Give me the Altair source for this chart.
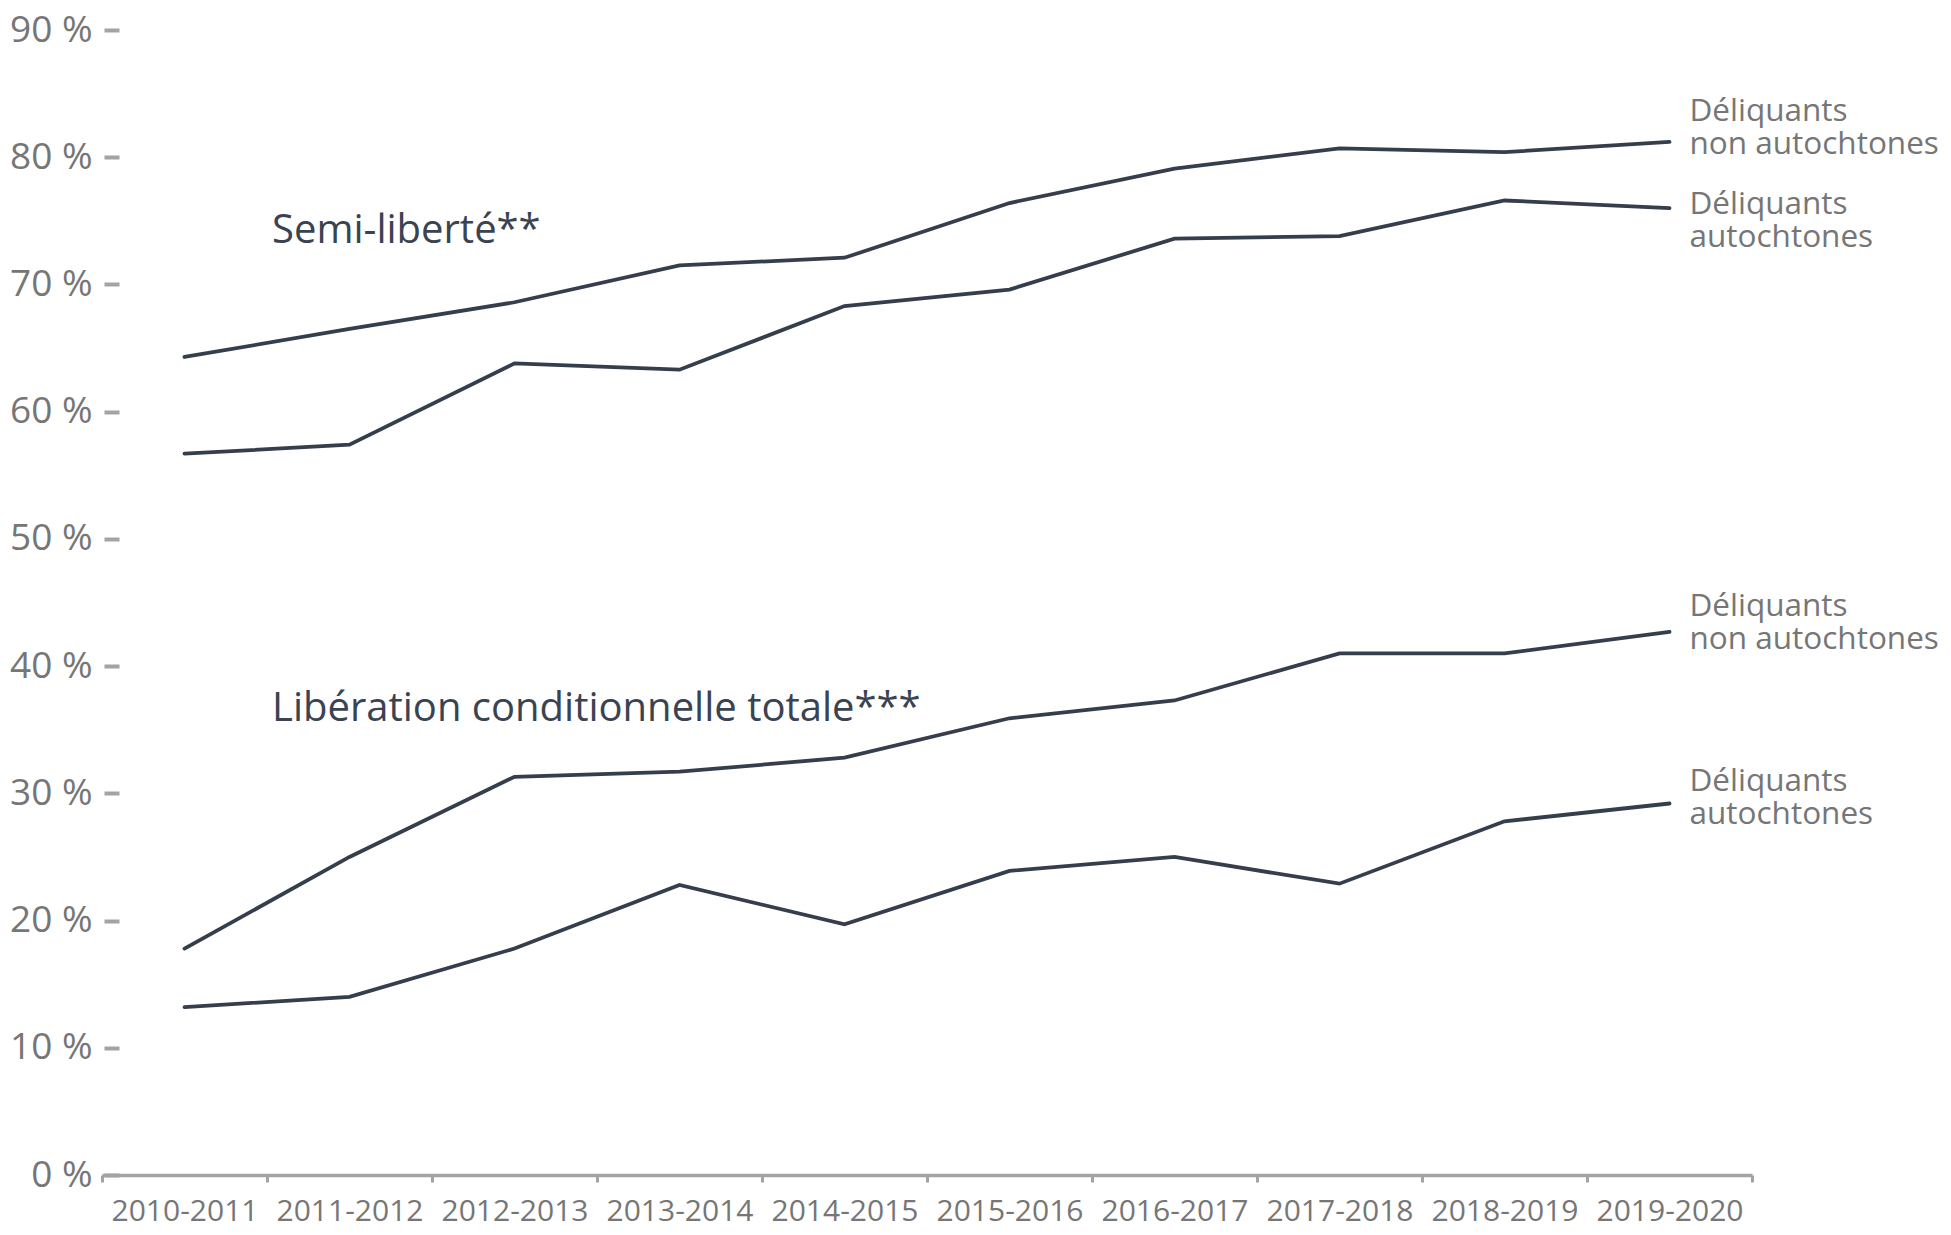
import altair as alt
import pandas as pd

years = ["2010-2011", "2011-2012", "2012-2013", "2013-2014", "2014-2015",
         "2015-2016", "2016-2017", "2017-2018", "2018-2019", "2019-2020"]

semi_non_autochtones = [64.3, 66.5, 68.6, 71.5, 72.1, 76.4, 79.1, 80.7, 80.4, 81.2]
semi_autochtones = [56.7, 57.4, 63.8, 63.3, 68.3, 69.6, 73.6, 73.8, 76.6, 76.0]
lc_non_autochtones = [17.8, 25.0, 31.3, 31.7, 32.8, 35.9, 37.3, 41.0, 41.0, 42.7]
lc_autochtones = [13.2, 14.0, 17.8, 22.8, 19.7, 23.9, 25.0, 22.9, 27.8, 29.2]

series = ["semi_non", "semi_aut", "lc_non", "lc_aut"]
series_values = [semi_non_autochtones, semi_autochtones, lc_non_autochtones, lc_autochtones]
series_labels = ["Déliquants\nnon autochtones", "Déliquants\nautochtones",
                 "Déliquants\nnon autochtones", "Déliquants\nautochtones"]

y_ticks = [0, 10, 20, 30, 40, 50, 60, 70, 80, 90]

rows = []
for name, vals in zip(series, series_values):
    for yr, v in zip(years, vals):
        rows.append({"annee": yr, "valeur": v, "serie": name})
df = pd.DataFrame(rows)

label_df = pd.DataFrame({
    "annee": [years[-1]] * 4,
    "valeur": [vals[-1] for vals in series_values],
    "serie": series,
    "label": series_labels,
})

FONT = "Open Sans"
LINE_COLOR = "#353e4c"
GRAY_TEXT = "#767676"
AXIS_GRAY = "#a3a3a3"

x_enc = alt.X(
    "annee:N",
    sort=years,
    bandPosition=0.5,
    scale=alt.Scale(type="band", domain=years, paddingInner=0, paddingOuter=0),
    axis=alt.Axis(
        title=None,
        domainColor=AXIS_GRAY, domainWidth=3.5,
        tickColor=AXIS_GRAY, tickWidth=3, tickSize=7, tickBand="extent",
        labelFont=FONT, labelFontSize=30, labelColor=GRAY_TEXT, labelPadding=14,
        labelAngle=0, grid=False,
    ),
)
y_enc = alt.Y(
    "valeur:Q",
    scale=alt.Scale(domain=[0, 90], nice=False, zero=True),
    axis=alt.Axis(
        title=None, values=y_ticks, labelExpr="datum.value + ' %'",
        domain=False, grid=False, offset=-17,
        tickColor=AXIS_GRAY, tickWidth=4, tickSize=15,
        labelFont=FONT, labelFontSize=37, labelColor=GRAY_TEXT, labelPadding=12,
    ),
)

lines = alt.Chart(df).mark_line(color=LINE_COLOR, strokeWidth=3.8, strokeCap="round").encode(
    x=x_enc, y=y_enc, detail="serie:N"
)

label_dy = {"semi_non": -21, "semi_aut": 6, "lc_non": -16, "lc_aut": -13}
label_layers = []
for name in series:
    label_layers.append(
        alt.Chart(label_df[label_df["serie"] == name]).mark_text(
            align="left", baseline="alphabetic", dx=20, dy=label_dy[name],
            lineBreak="\n", lineHeight=33, font=FONT, fontSize=31.5, color=GRAY_TEXT,
        ).encode(x=x_enc, y=y_enc, text="label:N")
    )

annot_semi = alt.Chart(pd.DataFrame({"t": ["Semi-liberté**"]})).mark_text(
    align="left", baseline="alphabetic", font=FONT, fontSize=40, color="#3a4352"
).encode(x=alt.value(170), y=alt.value(213), text="t:N")

annot_lc = alt.Chart(pd.DataFrame({"t": ["Libération conditionnelle totale***"]})).mark_text(
    align="left", baseline="alphabetic", font=FONT, fontSize=40, color="#3a4352"
).encode(x=alt.value(170), y=alt.value(691), text="t:N")

chart = alt.layer(lines, *label_layers, annot_semi, annot_lc).properties(
    width=1650, height=1145,
    padding={"left": 94, "top": 22, "right": 191, "bottom": 58},
    autosize=alt.AutoSizeParams(type="none"),
    background="white",
).configure_view(stroke=None)

chart.save("out.html", embed_options={"renderer": "svg", "actions": False})
